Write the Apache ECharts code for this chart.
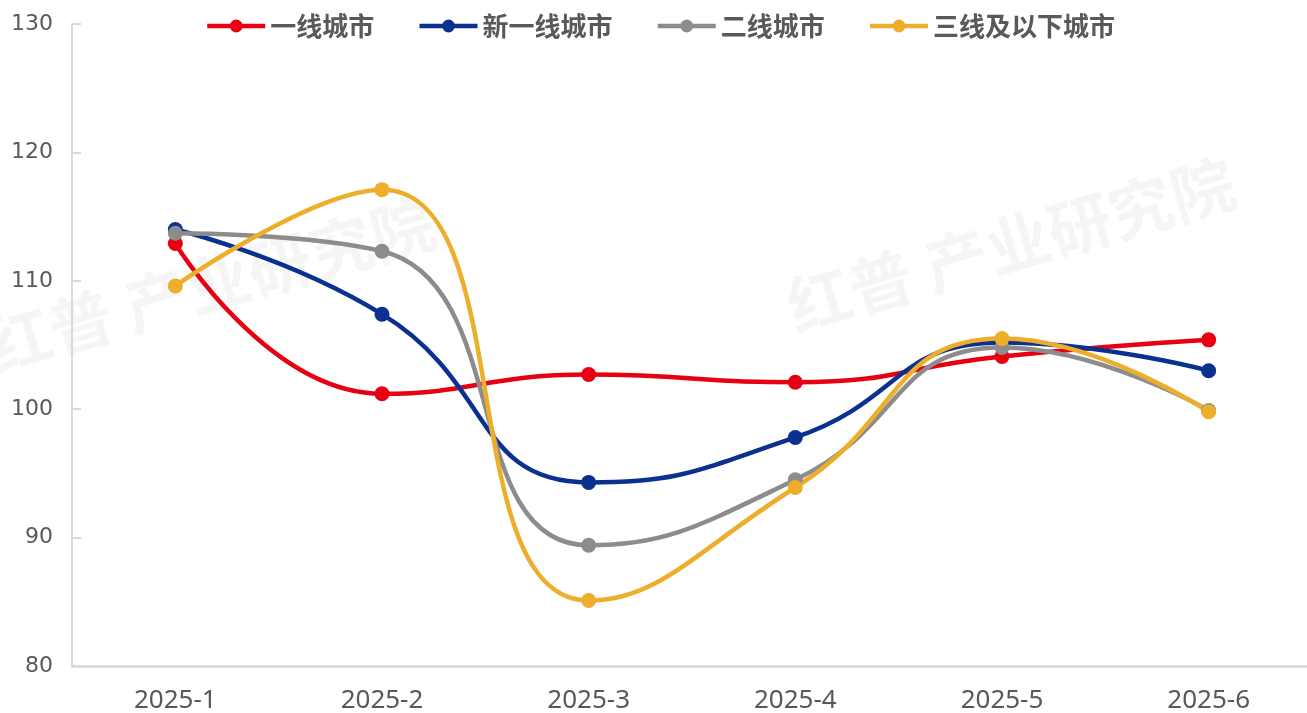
<!DOCTYPE html>
<html>
<head>
<meta charset="utf-8">
<script src="https://cdn.jsdelivr.net/npm/echarts@6/dist/echarts.min.js"></script>
<style>
  html, body { margin: 0; padding: 0; background: #fff; }
  #main { width: 1307px; height: 713px; }
</style>
</head>
<body>
<div id="main"></div>
<script>
// 数据
var months = ['2025-1', '2025-2', '2025-3', '2025-4', '2025-5', '2025-6'];
var tier1 = [112.9, 101.2, 102.7, 102.1, 104.1, 105.4];
var newTier1 = [114.0, 107.4, 94.3, 97.8, 105.2, 103.0];
var tier2 = [113.7, 112.3, 89.4, 94.5, 104.8, 99.9];
var tier3 = [109.6, 117.1, 85.1, 93.9, 105.5, 99.8];
var yTicks = [80, 90, 100, 110, 120, 130];

var font = '"Noto Sans CJK SC", "Noto Sans", sans-serif';

function makeSeries(name, data, color){
    return {
        name: name,
        type: 'line',
        smooth: 0.5,
        data: data,
        symbol: 'circle',
        symbolSize: 15,
        lineStyle: { width: 4.5, color: color },
        itemStyle: { color: color }
    };
}

var option = {
    animation: false,
    color: ['#E60012', '#0A318F', '#8C8C8C', '#EDAE2B'],
    legend: {
        top: 8,
        left: 200,
        itemWidth: 58,
        itemHeight: 16,
        itemGap: 43,
        lineStyle: { width: 4.5 },
        textStyle: { fontSize: 26, fontWeight: 'bold', color: '#595959', fontFamily: font },
        data: ['一线城市', '新一线城市', '二线城市', '三线及以下城市']
    },
    graphic: [
        {
            type: 'text', left: -20, top: 190, rotation: 0.28, z: -1,
            style: { text: '红普 产业研究院', fontSize: 64, fontWeight: 'bold', fill: 'rgba(0,0,0,0.04)', fontFamily: font }
        },
        {
            type: 'text', left: 780, top: 150, rotation: 0.28, z: -1,
            style: { text: '红普 产业研究院', fontSize: 64, fontWeight: 'bold', fill: 'rgba(0,0,0,0.04)', fontFamily: font }
        }
    ],
    grid: { left: 72, width: 1240, top: 24, bottom: 47, outerBoundsMode: 'none', containLabel: false },
    xAxis: {
        type: 'category',
        data: months,
        boundaryGap: true,
        axisLine: { lineStyle: { color: '#D9D9D9', width: 2.5 } },
        axisTick: { show: false },
        axisLabel: { fontSize: 26, color: '#595959', margin: 22, fontFamily: '"Noto Sans", sans-serif' }
    },
    yAxis: {
        type: 'value',
        min: yTicks[0],
        max: yTicks[yTicks.length - 1],
        interval: 10,
        axisLine: { show: true, lineStyle: { color: '#D9D9D9', width: 2 } },
        axisTick: { show: true, inside: true, length: 9, lineStyle: { color: '#D9D9D9', width: 2 } },
        splitLine: { show: false },
        axisLabel: { fontSize: 22, color: '#595959', margin: 19, fontFamily: '"DejaVu Sans", sans-serif' }
    },
    series: [
        makeSeries('一线城市', tier1, '#E60012'),
        makeSeries('新一线城市', newTier1, '#0A318F'),
        makeSeries('二线城市', tier2, '#8C8C8C'),
        makeSeries('三线及以下城市', tier3, '#EDAE2B')
    ]
};

var chart = echarts.init(document.getElementById('main'));
chart.setOption(option);
</script>
</body>
</html>
